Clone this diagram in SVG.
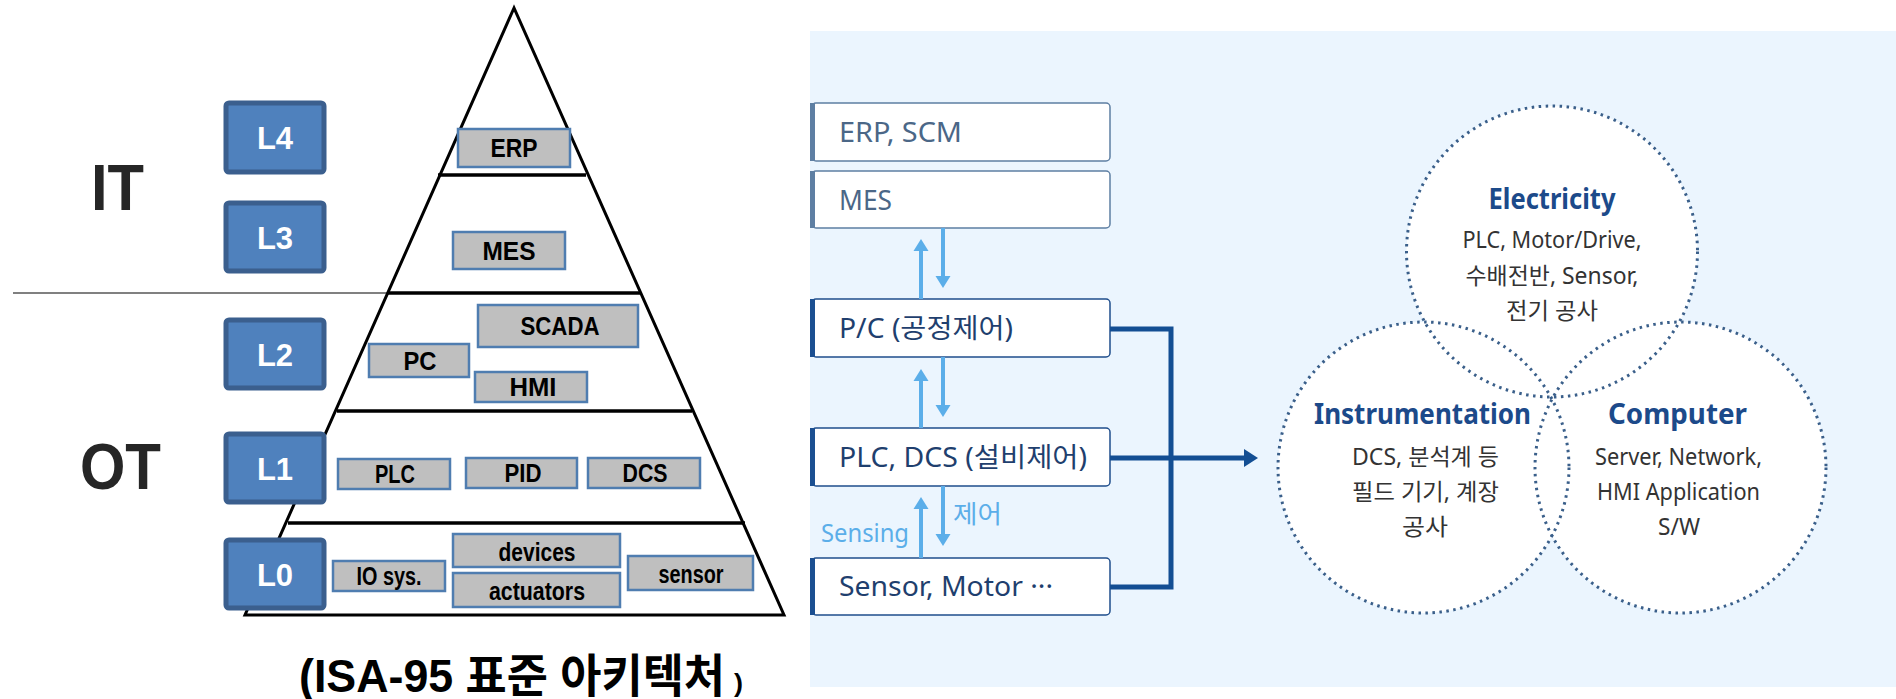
<svg xmlns="http://www.w3.org/2000/svg" width="1896" height="699" viewBox="0 0 1896 699">
<style>
.lv{fill:#4F81BD;stroke:#3B5F8E;stroke-width:5}
.lvt{font-family:"Liberation Sans","Noto Sans",sans-serif;font-weight:bold;font-size:31px;fill:#fff;text-anchor:middle}
.gb{fill:#BFBFBF;stroke:#4F7DB0;stroke-width:2.5}
.gt{font-family:"Liberation Sans","Noto Sans",sans-serif;font-weight:bold;font-size:26px;fill:#000;text-anchor:middle}
.big{font-family:"Liberation Sans","Noto Sans",sans-serif;font-weight:bold;font-size:65px;fill:#262626}
.pl{stroke:#000;stroke-width:3.5;fill:none}
.bx1{fill:#fff;stroke:#5E7FA3;stroke-width:1.5}
.bx2{fill:#fff;stroke:#1F4E8C;stroke-width:1.5}
.bt1{font-family:"Noto Sans","Noto Sans CJK KR",sans-serif;font-size:27px;fill:#4B6787}
.bt2{font-family:"Noto Sans","Noto Sans CJK KR",sans-serif;font-size:27px;fill:#1F3F6E}
.la{stroke:#5BAEE9;stroke-width:4;fill:none}
.lah{fill:#5BAEE9}
.lbl{font-family:"Noto Sans","Noto Sans CJK KR",sans-serif;font-size:25px;fill:#5BAEE9}
.nv{stroke:#134E93;stroke-width:5;fill:none}
.cf{fill:#fff;stroke:none}
.cs{fill:none;stroke:#3A5F8A;stroke-width:3;stroke-dasharray:2.5 4.5}
.ch{font-family:"Noto Sans","Noto Sans CJK KR",sans-serif;font-weight:bold;font-size:29px;fill:#1C4A8A;text-anchor:middle}
.cb{font-family:"Noto Sans","Noto Sans CJK KR",sans-serif;font-size:23px;fill:#333;text-anchor:middle}
.cap{font-family:"Liberation Sans","Noto Sans CJK KR",sans-serif;font-weight:bold;fill:#000}
</style>

<!-- Left: ISA-95 pyramid -->
<g id="labels-it-ot">
<text class="big" x="91" y="210" textLength="53" lengthAdjust="spacingAndGlyphs">IT</text>
<text class="big" x="80" y="489" textLength="81" lengthAdjust="spacingAndGlyphs">OT</text>
</g>
<line x1="13" y1="293" x2="388" y2="293" stroke="#808080" stroke-width="2"/>
<g id="pyramid">
<polygon points="514,8 245,615 784,615" fill="none" stroke="#000" stroke-width="3"/>
<line class="pl" x1="438" y1="175" x2="586" y2="175"/>
<line class="pl" x1="388" y1="293" x2="640" y2="293"/>
<line class="pl" x1="337" y1="411" x2="692" y2="411"/>
<line class="pl" x1="288" y1="523" x2="745" y2="523"/>
</g>

<g id="L4"><rect class="lv" x="226" y="103" width="98" height="69" rx="3"/><text class="lvt" x="275" y="149">L4</text></g>
<g id="L3"><rect class="lv" x="226" y="203" width="98" height="68" rx="3"/><text class="lvt" x="275" y="248.5">L3</text></g>
<g id="L2"><rect class="lv" x="226" y="320" width="98" height="68" rx="3"/><text class="lvt" x="275" y="365.5">L2</text></g>
<g id="L1"><rect class="lv" x="226" y="434" width="98" height="68" rx="3"/><text class="lvt" x="275" y="479.5">L1</text></g>
<g id="L0"><rect class="lv" x="226" y="540" width="98" height="68" rx="3"/><text class="lvt" x="275" y="585.5">L0</text></g>

<g id="erp"><rect class="gb" x="458" y="129" width="112" height="38"/><text class="gt" x="514" y="157.3" textLength="47" lengthAdjust="spacingAndGlyphs">ERP</text></g>
<g id="mes"><rect class="gb" x="453" y="232" width="112" height="37"/><text class="gt" x="509" y="259.8" textLength="53" lengthAdjust="spacingAndGlyphs">MES</text></g>
<g id="scada"><rect class="gb" x="478" y="305" width="160" height="42"/><text class="gt" x="560" y="335.3" textLength="79" lengthAdjust="spacingAndGlyphs">SCADA</text></g>
<g id="pc"><rect class="gb" x="369" y="344" width="100" height="33"/><text class="gt" x="420" y="369.8" textLength="33" lengthAdjust="spacingAndGlyphs">PC</text></g>
<g id="hmi"><rect class="gb" x="475" y="372" width="112" height="30"/><text class="gt" x="533" y="396.3" textLength="47" lengthAdjust="spacingAndGlyphs">HMI</text></g>
<g id="plc"><rect class="gb" x="338" y="459" width="112" height="30"/><text class="gt" x="395" y="483.3" textLength="40" lengthAdjust="spacingAndGlyphs">PLC</text></g>
<g id="pid"><rect class="gb" x="466" y="458" width="111" height="30"/><text class="gt" x="523" y="482.3" textLength="37" lengthAdjust="spacingAndGlyphs">PID</text></g>
<g id="dcs"><rect class="gb" x="588" y="458" width="112" height="30"/><text class="gt" x="645" y="482.3" textLength="45" lengthAdjust="spacingAndGlyphs">DCS</text></g>
<g id="iosys"><rect class="gb" x="333" y="561" width="112" height="30"/><text class="gt" x="389" y="585.3" textLength="65" lengthAdjust="spacingAndGlyphs">IO sys.</text></g>
<g id="devices"><rect class="gb" x="453" y="534" width="167" height="33"/><text class="gt" x="537" y="561" textLength="77" lengthAdjust="spacingAndGlyphs">devices</text></g>
<g id="actuators"><rect class="gb" x="453" y="573" width="167" height="34"/><text class="gt" x="537" y="600" textLength="96" lengthAdjust="spacingAndGlyphs">actuators</text></g>
<g id="sensor"><rect class="gb" x="628" y="556" width="125" height="34"/><text class="gt" x="691" y="583" textLength="65" lengthAdjust="spacingAndGlyphs">sensor</text></g>

<g id="caption">
<text class="cap" x="299" y="692" font-size="46" textLength="426" lengthAdjust="spacingAndGlyphs">(ISA-95 표준 아키텍처</text>
<text class="cap" x="734" y="692" font-size="26" textLength="9" lengthAdjust="spacingAndGlyphs">)</text>
</g>

<!-- Right panel -->
<rect x="810" y="31" width="1086" height="656" fill="#EBF5FE"/>

<g id="box-erp-scm"><rect class="bx1" x="812" y="103" width="298" height="58" rx="4"/><rect x="810" y="103" width="5" height="58" fill="#5E7FA3"/><text class="bt1" x="839" y="142" textLength="123" lengthAdjust="spacingAndGlyphs">ERP, SCM</text></g>
<g id="box-mes"><rect class="bx1" x="812" y="171" width="298" height="57" rx="4"/><rect x="810" y="171" width="5" height="57" fill="#5E7FA3"/><text class="bt1" x="839" y="209.5" textLength="53" lengthAdjust="spacingAndGlyphs">MES</text></g>
<g id="box-pc"><rect class="bx2" x="812" y="299" width="298" height="58" rx="4"/><rect x="810" y="299" width="5" height="58" fill="#1B4F91"/><text class="bt2" x="839" y="338" textLength="174" lengthAdjust="spacingAndGlyphs">P/C (공정제어)</text></g>
<g id="box-plc-dcs"><rect class="bx2" x="812" y="428" width="298" height="58" rx="4"/><rect x="810" y="428" width="5" height="58" fill="#1B4F91"/><text class="bt2" x="839" y="467" textLength="248" lengthAdjust="spacingAndGlyphs">PLC, DCS (설비제어)</text></g>
<g id="box-sensor-motor"><rect class="bx2" x="812" y="558" width="298" height="57" rx="4"/><rect x="810" y="558" width="5" height="57" fill="#1B4F91"/><text class="bt2" x="839" y="596" textLength="214" lengthAdjust="spacingAndGlyphs">Sensor, Motor ···</text></g>

<g id="connectors">
<line class="la" x1="921" y1="299" x2="921" y2="250"/><polygon class="lah" points="913.5,251 921,239 928.5,251"/>
<line class="la" x1="943" y1="228" x2="943" y2="277"/><polygon class="lah" points="935.5,276 943,288 950.5,276"/>
<line class="la" x1="921" y1="428" x2="921" y2="380"/><polygon class="lah" points="913.5,381 921,369 928.5,381"/>
<line class="la" x1="943" y1="357" x2="943" y2="406"/><polygon class="lah" points="935.5,405 943,417 950.5,405"/>
<line class="la" x1="921" y1="558" x2="921" y2="508"/><polygon class="lah" points="913.5,509 921,497 928.5,509"/>
<line class="la" x1="943" y1="486" x2="943" y2="535"/><polygon class="lah" points="935.5,534 943,546 950.5,534"/>
<text class="lbl" x="953" y="523" textLength="49" lengthAdjust="spacingAndGlyphs">제어</text>
<text class="lbl" x="821" y="542" textLength="88" lengthAdjust="spacingAndGlyphs">Sensing</text>
<polyline class="nv" points="1110,329 1171,329 1171,587 1110,587"/>
<line class="nv" x1="1110" y1="458" x2="1248" y2="458"/>
<polygon fill="#134E93" points="1244,449 1258,458 1244,467"/>
</g>

<g id="circles-fill">
<circle class="cf" cx="1552" cy="251.5" r="145.5"/>
<circle class="cf" cx="1423.5" cy="467.5" r="145.5"/>
<circle class="cf" cx="1680.5" cy="467.5" r="145.5"/>
</g>
<g id="electricity">
<circle class="cs" cx="1552" cy="251.5" r="145.5"/>
<text class="ch" x="1552" y="209" textLength="127" lengthAdjust="spacingAndGlyphs">Electricity</text>
<text class="cb" x="1552" y="248" textLength="179" lengthAdjust="spacingAndGlyphs">PLC, Motor/Drive,</text>
<text class="cb" x="1552" y="284" textLength="173" lengthAdjust="spacingAndGlyphs">수배전반, Sensor,</text>
<text class="cb" x="1552" y="319" textLength="92" lengthAdjust="spacingAndGlyphs">전기 공사</text>
</g>
<g id="instrumentation">
<circle class="cs" cx="1423.5" cy="467.5" r="145.5"/>
<text class="ch" x="1422.5" y="424" textLength="217" lengthAdjust="spacingAndGlyphs">Instrumentation</text>
<text class="cb" x="1425.5" y="465" textLength="147" lengthAdjust="spacingAndGlyphs">DCS, 분석계 등</text>
<text class="cb" x="1425.5" y="500" textLength="147" lengthAdjust="spacingAndGlyphs">필드 기기, 계장</text>
<text class="cb" x="1425" y="535" textLength="46" lengthAdjust="spacingAndGlyphs">공사</text>
</g>
<g id="computer">
<circle class="cs" cx="1680.5" cy="467.5" r="145.5"/>
<text class="ch" x="1677.5" y="424" textLength="139" lengthAdjust="spacingAndGlyphs">Computer</text>
<text class="cb" x="1678.5" y="465" textLength="167" lengthAdjust="spacingAndGlyphs">Server, Network,</text>
<text class="cb" x="1678.5" y="500" textLength="163" lengthAdjust="spacingAndGlyphs">HMI Application</text>
<text class="cb" x="1679" y="535" textLength="42" lengthAdjust="spacingAndGlyphs">S/W</text>
</g>
</svg>
